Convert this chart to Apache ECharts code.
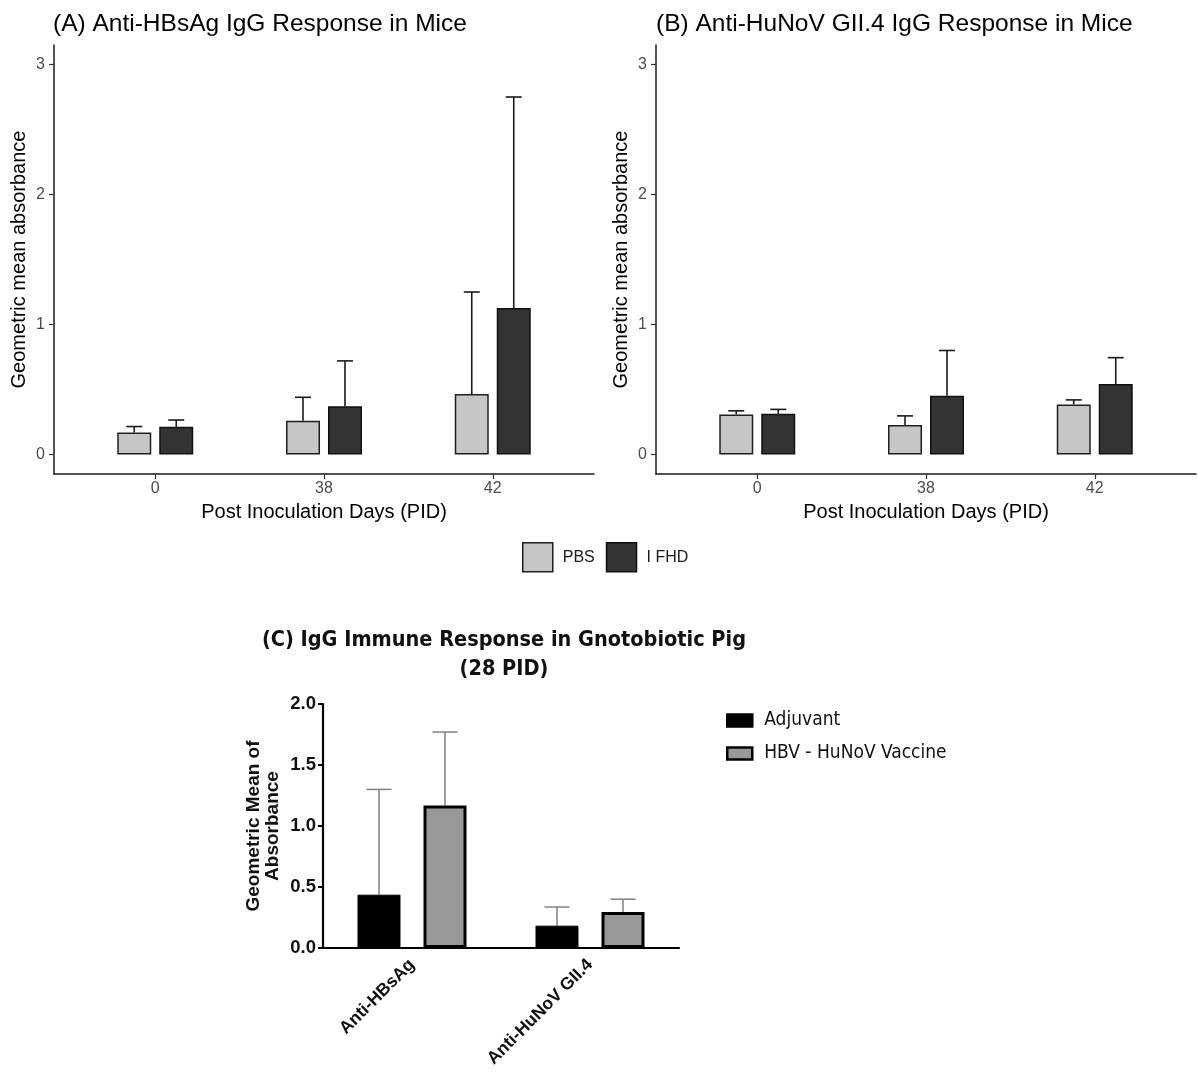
<!DOCTYPE html>
<html>
<head>
<meta charset="utf-8">
<script src="https://cdn.jsdelivr.net/npm/echarts@6/dist/echarts.min.js"></script>
<style>html,body{margin:0;padding:0;background:#fff;}#c{width:1198px;height:1076px;}</style>
</head>
<body>
<div id="c"></div>
<script>
// ---- data ----
var days = ['0', '38', '42'];
var dayPos = [1, 2, 3];
var yTicksMice = [0, 1, 2, 3];

var hbsPBS = [0.17, 0.26, 0.465];
var hbsPBSUpper = [0.215, 0.44, 1.25];
var hbsIFHD = [0.213, 0.372, 1.126];
var hbsIFHDUpper = [0.265, 0.72, 2.75];

var novPBS = [0.308, 0.226, 0.385];
var novPBSUpper = [0.336, 0.297, 0.42];
var novIFHD = [0.313, 0.452, 0.542];
var novIFHDUpper = [0.347, 0.80, 0.745];

var pigCats = ['Anti-HBsAg', 'Anti-HuNoV GII.4'];
var pigAdj = [0.437, 0.183];
var pigAdjUpper = [1.30, 0.336];
var pigVac = [1.169, 0.295];
var pigVacUpper = [1.77, 0.40];

// ---- helpers ----
var SANS = '"Liberation Sans", Arial, sans-serif';
var NARROW = '"Liberation Sans Narrow", "DejaVu Sans Condensed", "Liberation Sans", sans-serif';

function pairs(xs, ys) { return xs.map(function (x, i) { return [x, ys[i]]; }); }
function triples(xs, ys, us) { return xs.map(function (x, i) { return [x, ys[i], us[i]]; }); }

function errRender(offset, capHalf, color, lw) {
  return function (params, api) {
    var x = api.value(0), v = api.value(1), u = api.value(2);
    var p0 = api.coord([x, v]), p1 = api.coord([x, u]);
    var cx = p0[0] + offset;
    return {
      type: 'group',
      children: [
        { type: 'line', shape: { x1: cx, y1: p0[1], x2: cx, y2: p1[1] }, style: { stroke: color, lineWidth: lw } },
        { type: 'line', shape: { x1: cx - capHalf, y1: p1[1], x2: cx + capHalf, y2: p1[1] }, style: { stroke: color, lineWidth: lw } }
      ]
    };
  };
}

function miceX(gi) {
  return {
    type: 'value', gridIndex: gi, min: 0.4, max: 3.6,
    name: 'Post Inoculation Days (PID)', nameLocation: 'middle', nameGap: 28,
    nameTextStyle: { fontFamily: SANS, fontSize: 20, color: '#000' },
    axisLine: { show: true, onZero: false, lineStyle: { color: '#1a1a1a', width: 1.5 } },
    axisTick: { show: true, length: 5, customValues: dayPos, lineStyle: { color: '#333', width: 1.2 } },
    axisLabel: { customValues: dayPos, fontFamily: SANS, fontSize: 16, color: '#4d4d4d', margin: 7,
      formatter: function (v) { return days[Math.round(v) - 1]; } },
    splitLine: { show: false }
  };
}
function miceY(gi) {
  return {
    type: 'value', gridIndex: gi, min: -0.15, max: 3.15,
    name: 'Geometric mean absorbance', nameLocation: 'middle', nameGap: 25,
    nameTextStyle: { fontFamily: SANS, fontSize: 20, color: '#000' },
    axisLine: { show: true, onZero: false, lineStyle: { color: '#1a1a1a', width: 1.5 } },
    axisTick: { show: true, length: 5, customValues: yTicksMice, lineStyle: { color: '#333', width: 1.2 } },
    axisLabel: { customValues: yTicksMice, fontFamily: SANS, fontSize: 16, color: '#4d4d4d', margin: 9 },
    splitLine: { show: false }
  };
}

var barW = 34, barGap = '23.5%', off = 21, cap = 8;
var pbsStyle = { color: '#c6c6c6', borderColor: '#1f1f1f', borderWidth: 1.5 };
var ifhdStyle = { color: '#333333', borderColor: '#111111', borderWidth: 1.5 };

function miceSeries(gi, pbs, pbsU, ifhd, ifhdU) {
  return [
    { type: 'bar', name: 'PBS', xAxisIndex: gi, yAxisIndex: gi, barWidth: barW, barGap: barGap,
      itemStyle: pbsStyle, data: pairs(dayPos, pbs), z: 2 },
    { type: 'bar', name: 'I FHD', xAxisIndex: gi, yAxisIndex: gi, barWidth: barW, barGap: barGap,
      itemStyle: ifhdStyle, data: pairs(dayPos, ifhd), z: 2 },
    { type: 'custom', name: 'errPBS' + gi, xAxisIndex: gi, yAxisIndex: gi, z: 3,
      renderItem: errRender(-off, cap, '#1a1a1a', 1.6), encode: { x: 0, y: [1, 2] },
      data: triples(dayPos, pbs, pbsU) },
    { type: 'custom', name: 'errIFHD' + gi, xAxisIndex: gi, yAxisIndex: gi, z: 3,
      renderItem: errRender(off, cap, '#1a1a1a', 1.6), encode: { x: 0, y: [1, 2] },
      data: triples(dayPos, ifhd, ifhdU) }
  ];
}

var series = []
  .concat(miceSeries(0, hbsPBS, hbsPBSUpper, hbsIFHD, hbsIFHDUpper))
  .concat(miceSeries(1, novPBS, novPBSUpper, novIFHD, novIFHDUpper))
  .concat([
    { type: 'bar', name: 'Adjuvant', xAxisIndex: 2, yAxisIndex: 2, barWidth: 43, barGap: '53.5%',
      itemStyle: { color: '#000000', borderColor: '#000', borderWidth: 1 }, data: pigAdj, z: 2 },
    { type: 'bar', name: 'HBV - HuNoV Vaccine', xAxisIndex: 2, yAxisIndex: 2, barWidth: 43, barGap: '53.5%',
      itemStyle: { color: '#999999', borderColor: '#000', borderWidth: 3 }, data: pigVac, z: 2 },
    { type: 'custom', name: 'errAdj', xAxisIndex: 2, yAxisIndex: 2, z: 1,
      renderItem: errRender(-33, 12.5, '#808080', 1.5), encode: { x: 0, y: [1, 2] },
      data: triples([0, 1], pigAdj, pigAdjUpper) },
    { type: 'custom', name: 'errVac', xAxisIndex: 2, yAxisIndex: 2, z: 1,
      renderItem: errRender(33, 12.5, '#808080', 1.5), encode: { x: 0, y: [1, 2] },
      data: triples([0, 1], pigVac, pigVacUpper) }
  ]);

var option = {
  backgroundColor: '#ffffff',
  animation: false,
  title: [
    { text: '(A) Anti-HBsAg IgG Response in Mice', left: 48, top: 7,
      textStyle: { fontFamily: SANS, fontSize: 24.5, fontWeight: 'normal', color: '#000' } },
    { text: '(B) Anti-HuNoV GII.4 IgG Response in Mice', left: 651, top: 7,
      textStyle: { fontFamily: SANS, fontSize: 24.5, fontWeight: 'normal', color: '#000' } },
    { text: '(C) IgG Immune Response in Gnotobiotic Pig\n(28 PID)', left: 499, top: 621, textAlign: 'center',
      textStyle: { fontFamily: NARROW, fontSize: 21.5, fontWeight: 'bold', color: '#111', lineHeight: 29, align: 'center' } }
  ],
  legend: [
    { data: ['PBS', 'I FHD'], left: 517, top: 537, itemWidth: 30, itemHeight: 29, itemGap: 11, icon: 'rect',
      itemStyle: { borderWidth: 1.5 },
      textStyle: { fontFamily: SANS, fontSize: 16, color: '#1a1a1a', padding: [0, 0, 0, 5] }, selectedMode: false },
    { data: ['Adjuvant', 'HBV - HuNoV Vaccine'], orient: 'vertical', left: 721, top: 706, itemWidth: 25, itemHeight: 12,
      itemGap: 14, icon: 'rect', itemStyle: { borderWidth: 2.5 },
      textStyle: { fontFamily: NARROW, fontSize: 19, color: '#111', padding: [0, 0, 0, 7] }, selectedMode: false }
  ],
  grid: [
    { left: 54, top: 45, width: 540, height: 429 },
    { left: 656, top: 45, width: 540, height: 429 },
    { left: 323, top: 704, width: 356, height: 244 }
  ],
  xAxis: [
    miceX(0), miceX(1),
    { type: 'category', gridIndex: 2, data: pigCats,
      axisLine: { lineStyle: { color: '#000', width: 2.2 } },
      axisTick: { alignWithLabel: true, length: 6, lineStyle: { color: '#000', width: 2 } },
      axisLabel: { rotate: 45, fontFamily: SANS, fontSize: 17.5, fontWeight: 'bold', color: '#111', margin: 14 } }
  ],
  yAxis: [
    miceY(0), miceY(1),
    { type: 'value', gridIndex: 2, min: 0, max: 2, interval: 0.5,
      name: 'Geometric Mean of\nAbsorbance', nameLocation: 'middle', nameGap: 41,
      nameTextStyle: { fontFamily: SANS, fontSize: 19, fontWeight: 'bold', color: '#111', lineHeight: 19 },
      axisLine: { show: true, lineStyle: { color: '#000', width: 2.2 } },
      axisTick: { show: true, length: 5, lineStyle: { color: '#000', width: 2 } },
      axisLabel: { fontFamily: SANS, fontSize: 18.5, fontWeight: 'bold', color: '#111', margin: 7,
        formatter: function (v) { return v.toFixed(1); } },
      splitLine: { show: false } }
  ],
  series: series
};

var chart = echarts.init(document.getElementById('c'), null, { renderer: 'canvas' });
chart.setOption(option);
</script>
</body>
</html>
